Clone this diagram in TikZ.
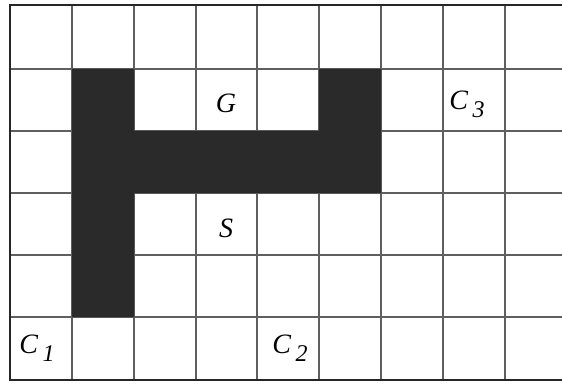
\documentclass[tikz,border=0pt]{standalone}
\usepackage{fontspec}
\setmainfont{Liberation Serif}
\definecolor{gridc}{RGB}{95,95,95}
\definecolor{darkc}{RGB}{42,42,42}
\newcommand{\lbl}[2]{\fontsize{28}{32}\selectfont\itshape #1\,\raisebox{-8pt}{\fontsize{24}{28}\selectfont #2}}
\begin{document}
\begin{tikzpicture}[x=1pt,y=-1pt,
  gridline/.style={draw=gridc,line width=1.6pt},
  border/.style={draw=black!85,line width=2.6pt},
  wall/.style={fill=darkc},
  label/.style={inner sep=0pt,font=\fontsize{28}{32}\selectfont\itshape}]
\useasboundingbox (0,0) rectangle (562,385);
\fill[white] (0,0) rectangle (562,385);
% grid
\foreach \x in {72,134,196,257,319,381,443,505}
  \draw[gridline] (\x,5) -- (\x,380);
\foreach \y in {69,131,193,255,317}
  \draw[gridline] (10,\y) -- (562,\y);
% wall
\path[wall] (72,69) -- (134,69) -- (134,131) -- (319,131) -- (319,69) -- (381,69)
  -- (381,193) -- (134,193) -- (134,317) -- (72,317) -- cycle;
% border
\draw[border] (562,5) -- (10,5) -- (10,380) -- (562,380);
% labels
\node[label] (G) at (226,103) {G};
\node[label] (S) at (226,228) {S};
\node[inner sep=0pt] (C3) at (467,104) {\lbl{C}{3}};
\node[inner sep=0pt] (C1) at (37,348) {\lbl{C}{1}};
\node[inner sep=0pt] (C2) at (290,348) {\lbl{C}{2}};
\end{tikzpicture}
\end{document}
